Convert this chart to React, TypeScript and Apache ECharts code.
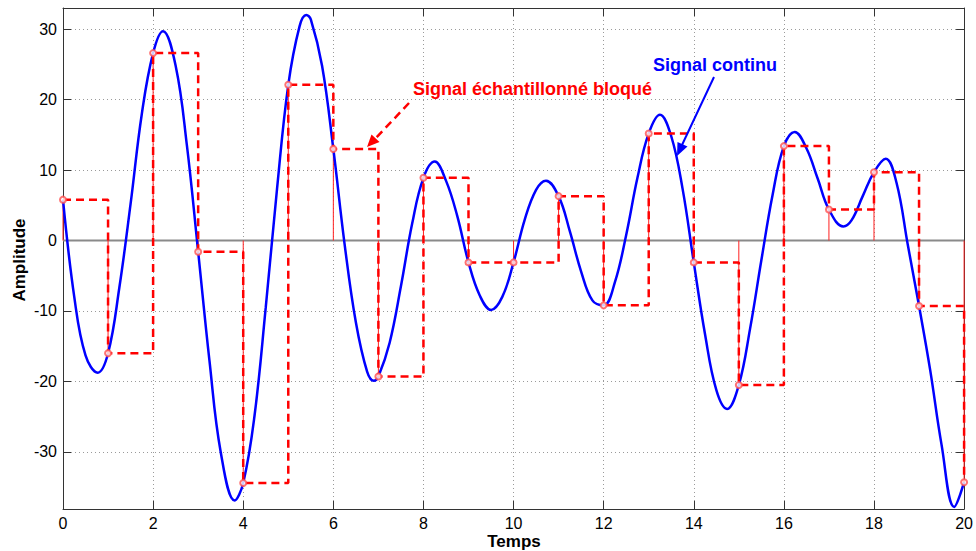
import React, { useEffect, useRef } from "react";
import * as echarts from "echarts";

// Continuous signal (time, amplitude)
const contT = [
  0, 0.25, 0.5, 0.77, 1, 1.25, 1.5, 1.75, 2, 2.22, 2.5, 2.75, 3, 3.25, 3.5, 3.81, 4, 4.25, 4.5, 4.75,
  5, 5.25, 5.4, 5.5, 5.75, 6, 6.25, 6.5, 6.75, 6.9, 7, 7.25, 7.5, 7.75, 8, 8.25, 8.5, 8.75, 9, 9.25,
  9.5, 9.75, 10, 10.25, 10.5, 10.72, 11, 11.25, 11.5, 11.75, 12, 12.25, 12.5, 12.75, 13, 13.25,
  13.5, 13.75, 14, 14.25, 14.5, 14.74, 15, 15.25, 15.5, 15.75, 16, 16.24, 16.5, 16.75, 17, 17.32, 17.5,
  17.75, 18, 18.26, 18.5, 18.75, 19, 19.25, 19.5, 19.78, 20,
];
const contV = [
  5.8, -8, -16.3, -18.75, -16, -6.7, 5.2, 18, 26.6, 29.7, 24.8, 13.5, -1.6, -17, -30, -36.9, -34.4, -24.9, -9.5, 7.3,
  22.1, 30.4, 32.0, 31.4, 24.8, 13, -0.5, -11.6, -18.6, -19.9, -19.3, -14.5, -6.5, 2.4, 8.9, 11.2, 8.5, 3.5, -3.1, -7.8,
  -9.85, -8.0, -3.1, 3.0, 7.2, 8.5, 6.3, 1.3, -4.4, -8.5, -9.2, -5.9, 0.8, 8.9, 15.2, 17.85,
  14.8, 7.4, -3.1, -13.3, -21.2, -23.9, -20.5, -12.5, -2.8, 6.5, 13.4, 15.4, 13.1, 8.8, 4.4, 2.0, 2.85,
  6.3, 9.7, 11.6, 8.2, -0.6, -9.3, -18.5, -29, -37.8, -34.3,
];

// Samples (sample-and-hold)
const sampleT = [0, 1, 2, 3, 4, 5, 6, 7, 8, 9, 10, 11, 12, 13, 14, 15, 16, 17, 18, 19, 20];
const sampleV = [
  5.8, -16, 26.6, -1.6, -34.4, 22.1, 13, -19.3, 8.9, -3.1, -3.1, 6.3, -9.2, 15.2, -3.1, -20.5, 13.4, 4.4, 9.7,
  -9.3, -34.3,
];

const xTicks = [0, 2, 4, 6, 8, 10, 12, 14, 16, 18, 20];
const yTicks = [-30, -20, -10, 0, 10, 20, 30];

const FONT = '"Liberation Sans", Arial, Helvetica, sans-serif';

export default function App() {
  const ref = useRef<HTMLDivElement>(null);

  useEffect(() => {
    if (!ref.current) return;
    const chart = echarts.init(ref.current, undefined, { renderer: "svg" });
    const cont = contT.map((t, i) => [t, contV[i]]);
    const samples = sampleT.map((t, i) => [t, sampleV[i]]);
    const xMin = xTicks[0];
    const xMax = xTicks[xTicks.length - 1];
    const yStep = yTicks[1] - yTicks[0];

    const yLabelFmt = (v: number) => (Math.abs(v % yStep) < 1e-9 ? String(v) : "");

    const axisLineStyle = { color: "#333", width: 1 };
    const gridLine = { show: true, lineStyle: { color: "#9a9a9a", width: 1, type: [1, 3] as any } };

    const option: any = {
      animation: false,
      grid: { left: 63, right: 11, top: 8, bottom: 42, containLabel: false },
      xAxis: [
        {
          type: "value",
          min: xMin,
          max: xMax,
          interval: 2,
          axisLine: { show: true, onZero: false, lineStyle: axisLineStyle },
          axisTick: { show: true, inside: true, length: 8, lineStyle: axisLineStyle },
          axisLabel: { color: "#000", fontSize: 16, fontFamily: FONT, margin: 6 },
          splitLine: gridLine,
        },
        {
          type: "value",
          position: "top",
          min: xMin,
          max: xMax,
          interval: 2,
          axisLine: { show: true, onZero: false, lineStyle: axisLineStyle },
          axisTick: { show: true, inside: true, length: 8, lineStyle: axisLineStyle },
          axisLabel: { show: false },
          splitLine: { show: false },
        },
      ],
      yAxis: [
        {
          type: "value",
          min: -38.1,
          max: 33,
          minInterval: yStep,
          maxInterval: yStep,
          axisLine: { show: true, onZero: false, lineStyle: axisLineStyle },
          axisTick: { show: true, inside: true, length: 8, lineStyle: axisLineStyle },
          axisLabel: {
            color: "#000",
            fontSize: 16,
            fontFamily: FONT,
            margin: 6,
            formatter: yLabelFmt,
            showMinLabel: false,
            showMaxLabel: false,
          },
          splitLine: gridLine,
        },
        {
          type: "value",
          position: "right",
          min: -38.1,
          max: 33,
          minInterval: yStep,
          maxInterval: yStep,
          axisLine: { show: true, onZero: false, lineStyle: axisLineStyle },
          axisTick: { show: true, inside: true, length: 8, lineStyle: axisLineStyle },
          axisLabel: { show: false },
          splitLine: { show: false },
        },
      ],
      series: [
        {
          type: "line",
          data: [
            [xMin, 0],
            [xMax, 0],
          ],
          symbol: "none",
          silent: true,
          lineStyle: { color: "#8a8a8a", width: 2 },
          z: 1,
        },
        {
          type: "custom",
          data: samples,
          silent: true,
          z: 2,
          renderItem: (params: any, api: any) => {
            const p0 = api.coord([api.value(0), 0]);
            const p1 = api.coord([api.value(0), api.value(1)]);
            return {
              type: "line",
              shape: { x1: p0[0], y1: p0[1], x2: p1[0], y2: p1[1] },
              style: { stroke: "#ff2020", lineWidth: 1 },
            };
          },
        },
        {
          type: "line",
          data: cont,
          smooth: 0.4,
          showSymbol: false,
          symbol: "none",
          lineStyle: { color: "#0000ff", width: 2.5 },
          z: 3,
        },
        {
          type: "line",
          data: samples,
          step: "end",
          showSymbol: false,
          symbol: "none",
          lineStyle: { color: "#ff0000", width: 2.5, type: [8, 5] },
          z: 4,
        },
        {
          type: "scatter",
          data: samples,
          symbol: "emptyCircle",
          symbolSize: 6,
          itemStyle: { color: "#ff5050", borderColor: "#ff5050", borderWidth: 1 },
          z: 5,
        },
      ],
      graphic: [
        {
          type: "text",
          x: 19,
          y: 260,
          rotation: Math.PI / 2,
          style: {
            text: "Amplitude",
            fontSize: 17,
            fontWeight: "bold",
            fontFamily: FONT,
            fill: "#000",
            align: "center",
            verticalAlign: "middle",
          },
        },
        {
          type: "text",
          x: 514,
          y: 541,
          style: {
            text: "Temps",
            fontSize: 17,
            fontWeight: "bold",
            fontFamily: FONT,
            fill: "#000",
            align: "center",
            verticalAlign: "middle",
          },
        },
        {
          type: "text",
          x: 413,
          y: 89,
          z: 10,
          style: {
            text: "Signal échantillonné bloqué",
            fontSize: 18,
            fontWeight: "bold",
            fontFamily: FONT,
            fill: "#ff0000",
            align: "left",
            verticalAlign: "middle",
          },
        },
        {
          type: "text",
          x: 653,
          y: 65,
          z: 10,
          style: {
            text: "Signal continu",
            fontSize: 18,
            fontWeight: "bold",
            fontFamily: FONT,
            fill: "#0000ff",
            align: "left",
            verticalAlign: "middle",
          },
        },
        {
          type: "line",
          z: 10,
          shape: { x1: 409, y1: 103, x2: 375, y2: 139 },
          style: { stroke: "#ff0000", lineWidth: 2.5, lineDash: [8, 5] },
        },
        {
          type: "polygon",
          z: 10,
          shape: {
            points: [
              [367, 147],
              [379.5, 142],
              [371.5, 134.5],
            ],
          },
          style: { fill: "#ff0000" },
        },
        {
          type: "line",
          z: 10,
          shape: { x1: 714, y1: 77, x2: 682, y2: 145 },
          style: { stroke: "#0000ff", lineWidth: 2 },
        },
        {
          type: "polygon",
          z: 10,
          shape: {
            points: [
              [677, 156],
              [687.5, 146.5],
              [677.5, 142],
            ],
          },
          style: { fill: "#0000ff" },
        },
      ],
    };

    chart.setOption(option);
    return () => chart.dispose();
  }, []);

  return (
    <div
      ref={ref}
      style={{ position: "absolute", left: 0, top: 0, width: 976, height: 551, background: "#fff" }}
    />
  );
}
